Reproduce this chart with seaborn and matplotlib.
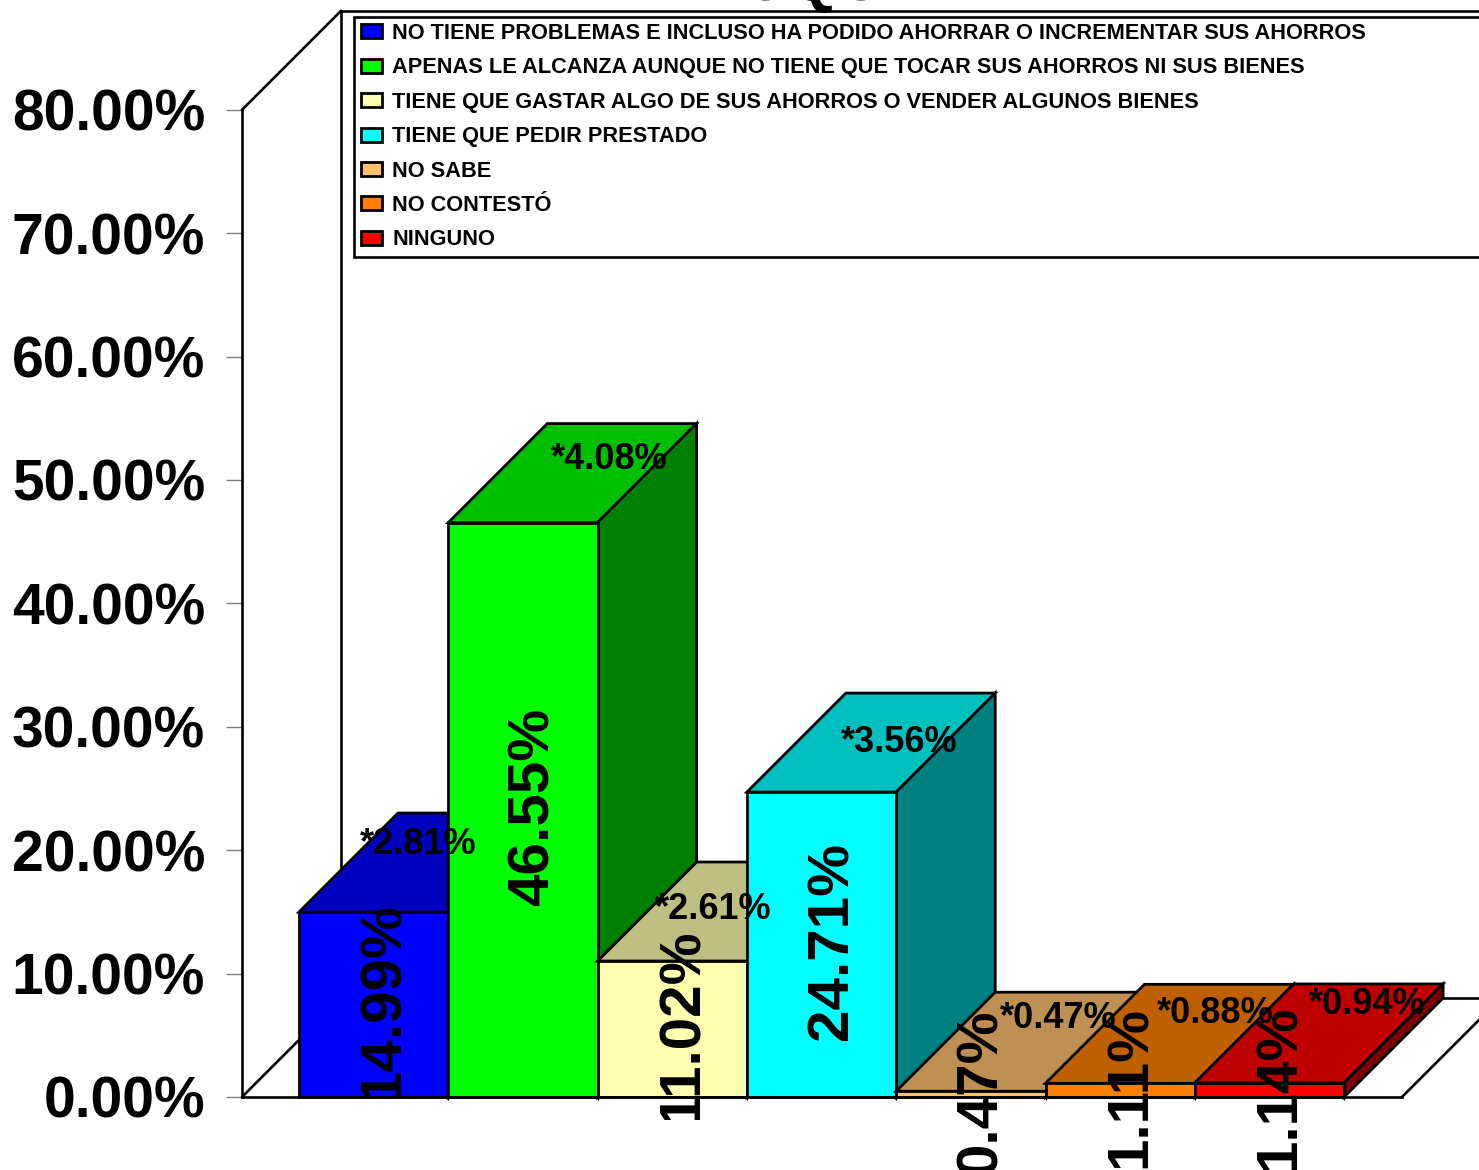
import matplotlib
matplotlib.use("Agg")
import matplotlib.pyplot as plt
from matplotlib.patches import Patch, Polygon, Rectangle
import seaborn as sns

# ========== Data ==========
categories = [
    "NO TIENE PROBLEMAS E INCLUSO HA PODIDO AHORRAR O INCREMENTAR SUS AHORROS",
    "APENAS LE ALCANZA AUNQUE NO TIENE QUE TOCAR SUS AHORROS NI SUS BIENES",
    "TIENE QUE GASTAR ALGO DE SUS AHORROS O VENDER ALGUNOS BIENES",
    "TIENE QUE PEDIR PRESTADO",
    "NO SABE",
    "NO CONTESTÓ",
    "NINGUNO",
]
values = [14.99, 46.55, 11.02, 24.71, 0.47, 1.11, 1.14]
errors = [2.81, 4.08, 2.61, 3.56, 0.47, 0.88, 0.94]
colors = ["#0000FF", "#00FF00", "#FFFFB0", "#00FFFF", "#FFC06E", "#FF8000", "#FF0000"]
y_ticks = [0, 10, 20, 30, 40, 50, 60, 70, 80]

# where the "*x.xx%" notes sit, in data units
note_x = [0.297, 1.576, 2.273, 3.519, 4.584, 5.635, 6.653]
note_y = [20.5, 51.63, 15.17, 28.7, 6.33, 6.74, 7.47]
# some value labels are cut off at the bottom in the source
label_cut = [0, None, -1.86, None, None, None, None]

# ========== Setup ==========
sns.set_theme(style="white")
plt.rcParams["font.family"] = ["Liberation Sans", "DejaVu Sans"]
plt.rcParams["font.weight"] = "bold"

W, H = 1479, 1170
PX_X = 149.3   # pixels per category
PX_Y = 12.34   # pixels per percent
X0_PX, Y0_PX = 299, 1097   # left edge of first bar, zero line

fig = plt.figure(figsize=(W / 100, H / 100), dpi=100)
ax = fig.add_axes([0, 0, 1, 1])
ax.patch.set_alpha(0)

palette = dict(zip(categories, colors))
sns.barplot(x=categories, y=values, hue=categories, palette=palette, width=1,
            saturation=1, edgecolor="black", linewidth=2, legend=False, ax=ax)

ax.set_xlim(-0.5 - X0_PX / PX_X, -0.5 + (W - X0_PX) / PX_X)
ax.set_ylim(-(H - Y0_PX) / PX_Y, Y0_PX / PX_Y)

# depth of the fake 3D box
dx = 99 / PX_X
dy = 99 / PX_Y
wall_left = -0.5 - 57 / PX_X
wall_right = -0.5 + 1103 / PX_X
wall_top = y_ticks[-1]


def shade(color, k):
    r, g, b = matplotlib.colors.to_rgb(color)
    return (r * k, g * k, b * k)


# ========== Walls and floor ==========
wall_kw = dict(color="black", lw=1.9, zorder=1, solid_capstyle="round")
ax.plot([wall_left, wall_left + dx], [wall_top, wall_top + dy], **wall_kw)
ax.plot([wall_left + dx, wall_left + dx], [dy, wall_top + dy], **wall_kw)
ax.plot([wall_left + dx, wall_right + 3], [wall_top + dy, wall_top + dy], **wall_kw)
ax.plot([wall_left, wall_left + dx], [0, dy], **wall_kw)
ax.plot([wall_left + dx, wall_right + dx], [dy, dy], **wall_kw)
ax.plot([wall_right, wall_right + dx], [0, dy], **wall_kw)

# ========== 3D faces, painted left to right ==========
bars = [c[0] for c in ax.containers]
for i, bar in enumerate(bars):
    x0, x1 = bar.get_x(), bar.get_x() + bar.get_width()
    top = bar.get_height()
    z = 2 + i
    ax.add_patch(Polygon([(x0, top), (x1, top), (x1 + dx, top + dy), (x0 + dx, top + dy)],
                         facecolor=shade(colors[i], 0.75), edgecolor="black", lw=2, zorder=z))
    ax.add_patch(Polygon([(x1, 0), (x1 + dx, dy), (x1 + dx, top + dy), (x1, top)],
                         facecolor=shade(colors[i], 0.5), edgecolor="black", lw=2, zorder=z))
    bar.set_zorder(z + 0.5)

# ========== Axes ==========
for name in ["top", "right"]:
    ax.spines[name].set_visible(False)
ax.spines["left"].set_position(("data", wall_left))
ax.spines["left"].set_bounds(0, wall_top)
ax.spines["bottom"].set_position(("data", 0))
ax.spines["bottom"].set_bounds(wall_left, wall_right)
for name in ["left", "bottom"]:
    ax.spines[name].set_color("black")
    ax.spines[name].set_linewidth(1.9)
    ax.spines[name].set_zorder(30)

ax.set_yticks(y_ticks)
ax.set_yticklabels([f"{v:.2f}%" for v in y_ticks], fontsize=41, fontweight="bold", color="black")
ax.tick_params(axis="y", left=True, length=11.5, width=1, color="#808080", pad=15)
ax.set_xticks([b.get_x() for b in bars[1:]] + [bars[-1].get_x() + 1])
ax.set_xticklabels([])
ax.tick_params(axis="x", bottom=True, length=2, width=1, color="black")

# ========== Labels ==========
for i, bar in enumerate(bars):
    t = ax.text(bar.get_x() + 0.57, values[i] / 2 + 0.25, f"{values[i]:.2f}%", rotation=90,
                ha="center", va="center", fontsize=42, fontweight="bold", color="black",
                zorder=40, clip_on=False)
    if label_cut[i] is not None:
        t.set_clip_on(True)
        t.set_clip_path(Rectangle((bar.get_x(), label_cut[i]), 1.2, 100, transform=ax.transData))
    ax.text(note_x[i], note_y[i], f"*{errors[i]:.2f}%", ha="center", va="center",
            fontsize=26, fontweight="bold", color="black", zorder=41)

# title, cut off by the top edge like the source
fig.text(758 / W, 1.0, "PARROQUIA", ha="center", va="baseline", fontsize=45,
         fontweight="bold", color="black")

# ========== Legend ==========
handles = [Patch(facecolor=c, edgecolor="black", linewidth=2) for c in colors]
leg_left = 354 / W
leg_bottom = 1 - 257 / H
leg = fig.legend(handles, categories, loc="lower left",
                 bbox_to_anchor=(leg_left, leg_bottom, 0.8, (257 - 15) / H), mode="expand",
                 ncol=1, fontsize=15.67, labelcolor="black", frameon=True, fancybox=False,
                 borderaxespad=0, borderpad=0.3, labelspacing=0.616, handlelength=1.0,
                 handleheight=0.62, handletextpad=0.45, edgecolor="black", framealpha=1)
leg.get_frame().set_linewidth(1.9)
leg.set_zorder(35)

plt.savefig("out.png", dpi=100)
plt.close()
print("Saved: out.png")
